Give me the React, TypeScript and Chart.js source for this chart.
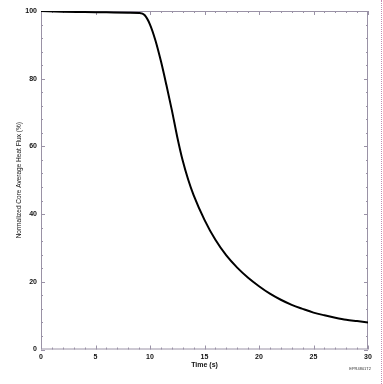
import React, { useEffect, useRef } from "react";
import { Chart, registerables } from "chart.js";

Chart.register(...registerables);

const times = [0, 2, 4, 6, 8, 9, 9.5, 10, 10.5, 11, 11.5, 12, 12.5, 13, 13.5, 14, 15, 16, 17, 18, 19, 20, 21, 22, 23, 24, 25, 26, 27, 28, 29, 30];
const heatFlux = [100, 99.8, 99.7, 99.6, 99.5, 99.4, 98.8, 96.0, 91.3, 85.2, 78.2, 70.8, 62.8, 55.8, 50.2, 45.6, 38.3, 32.4, 27.8, 24.2, 21.2, 18.7, 16.5, 14.7, 13.2, 12.0, 10.9, 10.1, 9.4, 8.8, 8.4, 8.0];

const xTitle = "Time (s)";
const yTitle = "Normalized Core Average Heat Flux (%)";
const stamp = "EPR4801T2";
const xMajorStep = 5;
const xMinorStep = 1;
const yMajorStep = 20;
const yMinorStep = 4;

const FRAME = "#9a92a6";
const FONT = "'Liberation Sans', Arial, sans-serif";

const framePlugin = {
  id: "frameTicks",
  beforeDatasetsDraw(chart: any) {
    const { ctx, chartArea } = chart;
    const xs = chart.scales.x;
    const ys = chart.scales.y;
    const { left, right, top, bottom } = chartArea;
    ctx.save();
    ctx.strokeStyle = FRAME;
    ctx.lineWidth = 1;
    ctx.strokeRect(left + 0.5, top + 0.5, right - left - 1, bottom - top - 1);
    ctx.beginPath();
    for (let v = 0; v <= 30 + 1e-9; v += xMinorStep) {
      const px = Math.round(xs.getPixelForValue(v)) + 0.5;
      const len = Math.abs(v % xMajorStep) < 1e-9 ? 4 : 2;
      ctx.moveTo(px, bottom);
      ctx.lineTo(px, bottom - len);
      ctx.moveTo(px, top);
      ctx.lineTo(px, top + len);
    }
    for (let v = 0; v <= 100 + 1e-9; v += yMinorStep) {
      const py = Math.round(ys.getPixelForValue(v)) + 0.5;
      const len = Math.abs(v % yMajorStep) < 1e-9 ? 4 : 2;
      ctx.moveTo(left, py);
      ctx.lineTo(left + len, py);
      ctx.moveTo(right, py);
      ctx.lineTo(right - len, py);
    }
    ctx.stroke();
    ctx.restore();
  },
  afterDraw(chart: any) {
    const { ctx, chartArea } = chart;
    ctx.save();
    ctx.fillStyle = "#333";
    ctx.font = `4px ${FONT}`;
    ctx.textAlign = "right";
    ctx.textBaseline = "middle";
    ctx.fillText(stamp, chartArea.right + 3, 369);
    ctx.restore();
  },
};

export default function App() {
  const ref = useRef<HTMLCanvasElement | null>(null);
  useEffect(() => {
    if (!ref.current) return;
    const chart = new Chart(ref.current, {
      type: "line",
      data: {
        datasets: [
          {
            data: times.map((t, i) => ({ x: t, y: heatFlux[i] })),
            borderColor: "#000",
            borderWidth: 2,
            pointRadius: 0,
            cubicInterpolationMode: "monotone",
            fill: false,
          },
        ],
      },
      options: {
        animation: false,
        responsive: false,
        maintainAspectRatio: false,
        layout: { padding: { top: 11, right: 15, left: 0, bottom: 0 } },
        plugins: { legend: { display: false }, tooltip: { enabled: false } },
        scales: {
          x: {
            type: "linear",
            min: 0,
            max: 30,
            grid: { display: false, drawTicks: false },
            border: { display: false },
            ticks: {
              stepSize: xMajorStep,
              padding: 3,
              color: "#111",
              font: { family: FONT, size: 7, weight: "bold" },
              maxRotation: 0,
            },
            title: {
              display: true,
              text: xTitle,
              color: "#111",
              font: { family: FONT, size: 7, weight: "bold" },
              padding: { top: 0, bottom: 14.8 },
            },
            afterFit: (s: any) => {
              s.height = 34.5;
            },
          },
          y: {
            min: 0,
            max: 100,
            grid: { display: false, drawTicks: false },
            border: { display: false },
            ticks: {
              stepSize: yMajorStep,
              padding: 4,
              color: "#111",
              font: { family: FONT, size: 7, weight: "bold" },
            },
            title: {
              display: true,
              text: yTitle,
              color: "#111",
              font: { family: FONT, size: 6.5 },
              padding: { top: 15.1, bottom: 0 },
            },
            afterFit: (s: any) => {
              s.width = 41;
            },
          },
        },
      },
      plugins: [framePlugin],
    } as any);
    return () => chart.destroy();
  }, []);
  return (
    <div style={{ position: "absolute", left: 0, top: 0, width: 383, height: 384, background: "#fff" }}>
      <canvas ref={ref} width={383} height={384} style={{ display: "block" }} />
      <div style={{ position: "absolute", left: 381, top: 0, width: 0, height: 384, borderLeft: "1px dotted #c58ab0" }} />
    </div>
  );
}
